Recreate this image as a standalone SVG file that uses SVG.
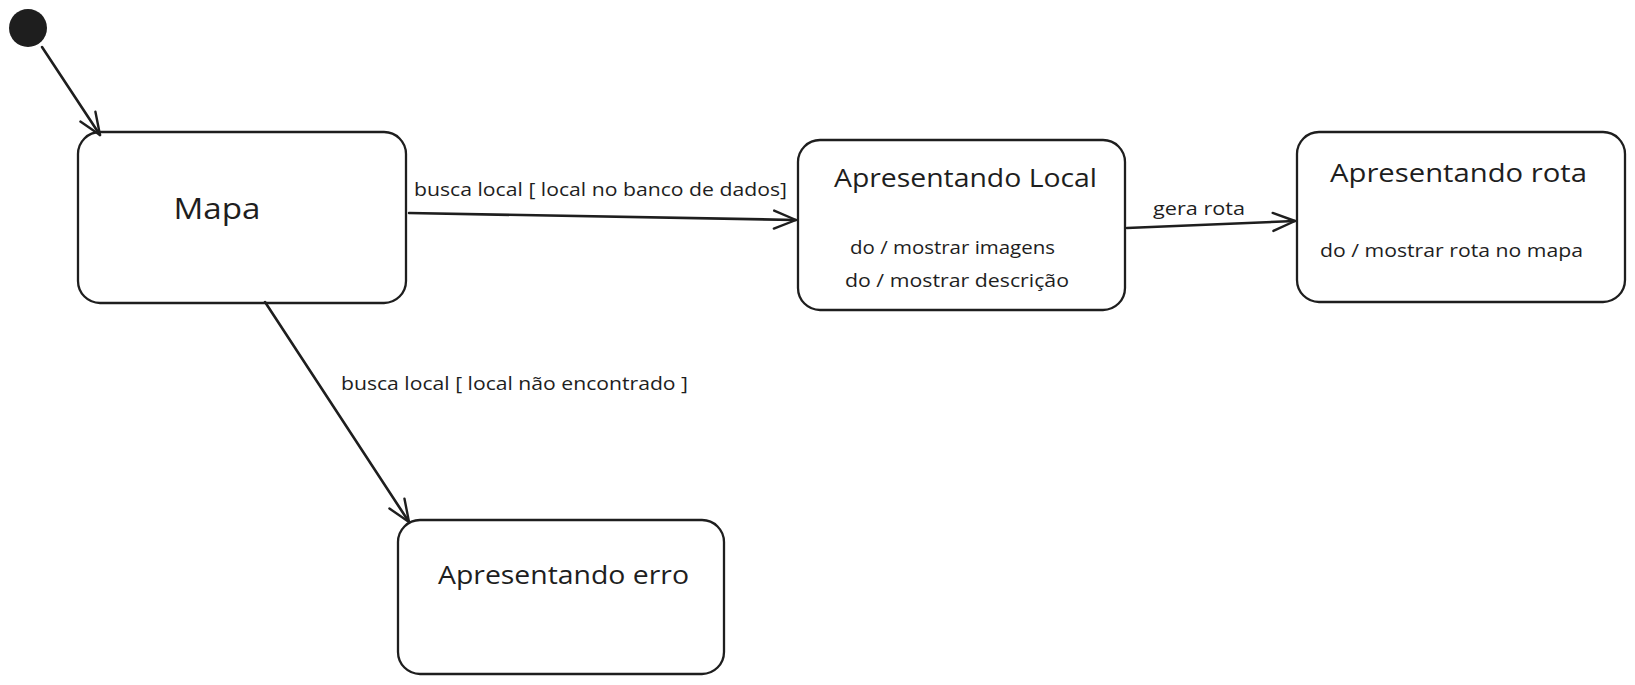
<svg xmlns="http://www.w3.org/2000/svg" width="1635" height="685" viewBox="0 0 1635 685">
<defs>
<style>
.box{fill:#ffffff;stroke:#1e1e1e;stroke-width:2.3}
.edge{fill:none;stroke:#1e1e1e;stroke-width:2.6;stroke-linecap:round}
.title{font-family:"Open Sans","Liberation Sans",sans-serif;font-size:26px;fill:#1e1e1e}
.sub{font-family:"Open Sans","Liberation Sans",sans-serif;font-size:18px;fill:#1e1e1e}
.lbl{font-family:"Open Sans","Liberation Sans",sans-serif;font-size:18px;fill:#1e1e1e}
</style>
<marker id="arr" viewBox="0 0 30 30" refX="28" refY="15" markerWidth="30" markerHeight="30" markerUnits="userSpaceOnUse" orient="auto">
<path d="M6,6 L28,15 L6,24" fill="none" stroke="#1e1e1e" stroke-width="2.4" stroke-linecap="round" stroke-linejoin="round"/>
</marker>
</defs>
<rect width="1635" height="685" fill="#ffffff"/>

<g id="initial">
<circle cx="28" cy="28" r="19" fill="#1e1e1e"/>
</g>

<g id="mapa">
<rect class="box" x="78" y="132" width="328" height="171" rx="22"/>
<text class="title" x="217" y="219" text-anchor="middle" textLength="87" lengthAdjust="spacingAndGlyphs" style="font-size:30px">Mapa</text>
</g>

<g id="apresentando-local">
<rect class="box" x="798" y="140" width="327" height="170" rx="22"/>
<text class="title" x="834" y="187" textLength="263" lengthAdjust="spacingAndGlyphs">Apresentando Local</text>
<text class="sub" x="850" y="254" textLength="205" lengthAdjust="spacingAndGlyphs">do / mostrar imagens</text>
<text class="sub" x="845" y="287" textLength="224" lengthAdjust="spacingAndGlyphs">do / mostrar descrição</text>
</g>

<g id="apresentando-rota">
<rect class="box" x="1297" y="132" width="328" height="170" rx="22"/>
<text class="title" x="1330" y="182" textLength="257" lengthAdjust="spacingAndGlyphs">Apresentando rota</text>
<text class="sub" x="1320" y="257" textLength="263" lengthAdjust="spacingAndGlyphs">do / mostrar rota no mapa</text>
</g>

<g id="apresentando-erro">
<rect class="box" x="398" y="520" width="326" height="154" rx="22"/>
<text class="title" x="438" y="584" textLength="251" lengthAdjust="spacingAndGlyphs">Apresentando erro</text>
</g>

<g id="connectors">
<line class="edge" x1="42" y1="47" x2="100" y2="135" marker-end="url(#arr)"/>
<line class="edge" x1="409" y1="213" x2="796" y2="220" marker-end="url(#arr)"/>
<line class="edge" x1="1127" y1="228" x2="1295" y2="221" marker-end="url(#arr)"/>
<line class="edge" x1="265" y1="302" x2="409" y2="522" marker-end="url(#arr)"/>
<text class="lbl" x="414" y="196" textLength="373" lengthAdjust="spacingAndGlyphs">busca local [ local no banco de dados]</text>
<text class="lbl" x="1153" y="215" textLength="92" lengthAdjust="spacingAndGlyphs">gera rota</text>
<text class="lbl" x="341" y="390" textLength="347" lengthAdjust="spacingAndGlyphs">busca local [ local não encontrado ]</text>
</g>
</svg>
